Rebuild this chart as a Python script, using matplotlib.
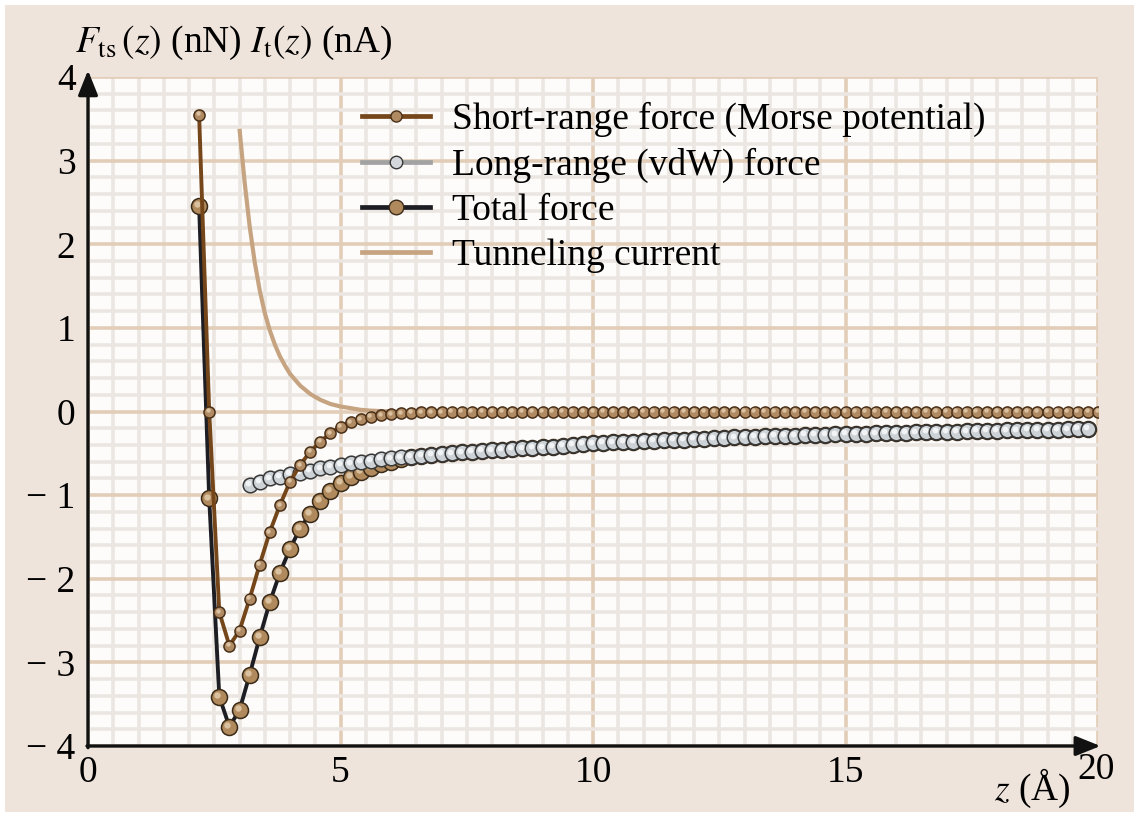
import numpy as np
import matplotlib
matplotlib.use("Agg")
import matplotlib.pyplot as plt
import matplotlib.patches as mpatches
import matplotlib.transforms as mtransforms

plt.rcParams["font.family"] = ["Liberation Serif", "DejaVu Serif"]
plt.rcParams["mathtext.fontset"] = "stix"

# tip-sample distance grid (Angstrom), step 0.2
z_short = np.round(np.arange(2.2, 20.01, 0.2), 1)
z_total = np.round(np.arange(2.2, 19.81, 0.2), 1)
z_vdw = np.round(np.arange(3.2, 19.81, 0.2), 1)

# short-range (Morse) force, nN
f_short = [
    3.55, 0.00, -2.40, -2.80, -2.62, -2.24, -1.83, -1.44, -1.12, -0.84,
    -0.64, -0.48, -0.36, -0.26, -0.18, -0.13, -0.09, -0.06, -0.04, -0.03,
    -0.02, -0.015, -0.01, -0.01, -0.005,
    0.0, 0.0, 0.0, 0.0, 0.0, 0.0, 0.0, 0.0, 0.0, 0.0, 0.0, 0.0, 0.0,
    0.0, 0.0, 0.0, 0.0, 0.0, 0.0, 0.0, 0.0, 0.0, 0.0, 0.0, 0.0, 0.0,
    0.0, 0.0, 0.0, 0.0, 0.0, 0.0, 0.0, 0.0, 0.0, 0.0, 0.0, 0.0, 0.0,
    0.0, 0.0, 0.0, 0.0, 0.0, 0.0, 0.0, 0.0, 0.0, 0.0, 0.0, 0.0, 0.0,
    0.0, 0.0, 0.0, 0.0, 0.0, 0.0, 0.0, 0.0, 0.0, 0.0, 0.0, 0.0, 0.0,
]

# long-range (vdW) force, nN
f_vdw = [
    -0.88, -0.84, -0.80, -0.78, -0.75, -0.73, -0.71, -0.68, -0.66, -0.64,
    -0.62, -0.60, -0.59, -0.57, -0.56, -0.55, -0.54, -0.53, -0.52, -0.51,
    -0.50, -0.49, -0.48, -0.47, -0.465, -0.46, -0.45, -0.44, -0.435, -0.43,
    -0.42, -0.41, -0.40, -0.39, -0.38,
    -0.375, -0.37, -0.365, -0.36, -0.355, -0.35, -0.345, -0.34, -0.335, -0.33,
    -0.325, -0.32, -0.315, -0.31, -0.305, -0.30, -0.297, -0.294, -0.29, -0.287,
    -0.284, -0.28, -0.277, -0.274, -0.27,
    -0.267, -0.264, -0.261, -0.258, -0.255, -0.252, -0.25, -0.247, -0.245, -0.242,
    -0.24, -0.237, -0.235, -0.232, -0.23, -0.227, -0.225, -0.222, -0.22, -0.218,
    -0.216, -0.214, -0.212, -0.21,
]

# total force, nN
f_total = [
    2.46, -1.04, -3.41, -3.77, -3.57, -3.15, -2.70, -2.28, -1.93, -1.64,
    -1.40, -1.22, -1.07, -0.95, -0.85, -0.78, -0.72, -0.67, -0.63, -0.60,
    -0.57, -0.55, -0.53, -0.52, -0.51,
    -0.50, -0.49, -0.48, -0.47, -0.465, -0.46, -0.45, -0.44, -0.435, -0.43,
    -0.42, -0.41, -0.40, -0.39, -0.38,
    -0.375, -0.37, -0.365, -0.36, -0.355, -0.35, -0.345, -0.34, -0.335, -0.33,
    -0.325, -0.32, -0.315, -0.31, -0.305, -0.30, -0.297, -0.294, -0.29, -0.287,
    -0.284, -0.28, -0.277, -0.274, -0.27,
    -0.267, -0.264, -0.261, -0.258, -0.255, -0.252, -0.25, -0.247, -0.245, -0.242,
    -0.24, -0.237, -0.235, -0.232, -0.23, -0.227, -0.225, -0.222, -0.22, -0.218,
    -0.216, -0.214, -0.212, -0.21,
]

# tunneling current, nA
z_tunnel = [3.0, 3.1, 3.2, 3.3, 3.4, 3.5, 3.6, 3.7, 3.8, 3.9, 4.0,
            4.2, 4.4, 4.6, 4.8, 5.0, 5.2, 5.4, 5.6, 5.8, 6.0]
i_tunnel = [3.38, 2.75, 2.22, 1.79, 1.45, 1.18, 0.97, 0.80, 0.66, 0.55, 0.45,
            0.31, 0.21, 0.14, 0.09, 0.06, 0.04, 0.02, 0.01, 0.005, 0.0]

x_ticklabels = ["0", "5", "10", "15", ""]
y_ticks = [-4, -3, -2, -1, 0, 1, 2, 3, 4]
y_ticklabels = ["\u2212 4", "\u2212 3", "\u2212 2", "\u2212 1", "0", "1", "2", "3", "4"]

labels = ["Short-range force (Morse potential)", "Long-range (vdW) force",
          "Total force", "Tunneling current"]

FS = 27


def balls(ax, x, y, size, face, edge, shine, zorder):
	# marker with a small light spot, gives the rounded look
	ax.plot(x, y, "o", ms=size, mfc=face, mec=edge, mew=1.1, zorder=zorder, ls="none")
	off = mtransforms.ScaledTranslation(-size * 0.12 / 72, size * 0.12 / 72, ax.figure.dpi_scale_trans)
	ax.plot(x, y, "o", ms=size * 0.4, mfc=shine, mec="none", alpha=0.75,
	        transform=ax.transData + off, zorder=zorder + 0.1, ls="none")
#end_def


def main():

	W, H = 1134, 817
	fig = plt.figure(figsize=(W / 100, H / 100), dpi=100, facecolor="white")
	fig.patches.append(mpatches.Rectangle((5 / W, 5 / H), 1, 1 - 10 / H, transform=fig.transFigure,
	                                      facecolor="#efe4db", edgecolor="none", zorder=-10))

	ax = fig.add_axes([88 / W, 1 - 746 / H, (1098 - 88) / W, (746 - 77) / H])
	ax.set_facecolor("#fefcfa")
	ax.set_xlim(0, 20)
	ax.set_ylim(-4, 4)

	ax.set_xticks(np.arange(0, 20.01, 5))
	ax.set_xticks(np.arange(0, 20.01, 0.5), minor=True)
	ax.set_yticks(y_ticks)
	ax.set_yticks(np.arange(-4, 4.01, 0.2), minor=True)
	ax.set_xticklabels(x_ticklabels, fontsize=FS)
	ax.set_yticklabels(y_ticklabels, fontsize=FS)
	ax.tick_params(which="both", length=0)
	ax.tick_params(axis="x", pad=7)
	ax.tick_params(axis="y", pad=9)

	ax.set_axisbelow(True)
	ax.grid(which="minor", color="#ebe6e1", lw=2.6)
	ax.grid(which="major", color="#e2cdb8", lw=2.6)
	for s in ax.spines.values():
		s.set_visible(False)
	#end_for

	# axes with arrow heads
	arrow = dict(arrowstyle="-|>,head_length=1.5,head_width=0.6", lw=2.4, color="#111111",
	             shrinkA=0, shrinkB=0)
	ax.annotate("", xy=(0, 4.08), xytext=(0, -4.02), arrowprops=arrow, annotation_clip=False, zorder=6)
	ax.annotate("", xy=(20.05, -4), xytext=(-0.02, -4), arrowprops=arrow, annotation_clip=False, zorder=6)

	# tunneling current
	ax.plot(z_tunnel, i_tunnel, color="#c6a482", lw=3.0, zorder=2, solid_capstyle="butt")

	# total force
	ax.plot(z_total, f_total, color="#1d1d24", lw=2.8, zorder=3)
	balls(ax, z_total, f_total, 11.5, "#b08a5c", "#3a2a18", "#e8d4b8", 3.2)

	# vdW force
	ax.plot(z_vdw, f_vdw, color="#a2a2a2", lw=2.8, zorder=4)
	balls(ax, z_vdw, f_vdw, 10.5, "#cdd2d6", "#383838", "#ffffff", 4.2)

	# short-range force
	ax.plot(z_short, f_short, color="#74461a", lw=2.8, zorder=5)
	balls(ax, z_short, f_short, 8, "#b08a62", "#4a3018", "#e8d4b8", 5.2)

	# legend handles
	h1, = ax.plot([], [], color="#74461a", lw=3.4, marker="o", ms=8, mfc="#b08a62", mec="#4a3018")
	h2, = ax.plot([], [], color="#a2a2a2", lw=3.4, marker="o", ms=9, mfc="#d4d8dc", mec="#383838")
	h3, = ax.plot([], [], color="#1d1d24", lw=3.4, marker="o", ms=10.5, mfc="#b08a5c", mec="#3a2a18")
	h4, = ax.plot([], [], color="#c6a482", lw=3.4)
	fig.legend([h1, h2, h3, h4], labels, loc="upper left", bbox_to_anchor=(362 / W, 1 - 102 / H),
	           frameon=False, fontsize=FS, numpoints=1, handlelength=1.8, handletextpad=0.6,
	           labelspacing=0.28, borderpad=0, borderaxespad=0)

	# axis titles
	fig.text(75 / W, 1 - 43 / H, r"$F_{\mathrm{ts}}\,(z)$ (nN) $I_{\mathrm{t}}(z)$ (nA)",
	         fontsize=FS, ha="left", va="center")
	fig.text(1070 / W, 1 - 788 / H, r"$z$ (Å)", fontsize=FS, ha="right", va="center")
	fig.text(1096 / W, 1 - 770 / H, "20", fontsize=FS, ha="center", va="center")

	fig.savefig("out.png", dpi=100, facecolor=fig.get_facecolor())
#end_def


main()
